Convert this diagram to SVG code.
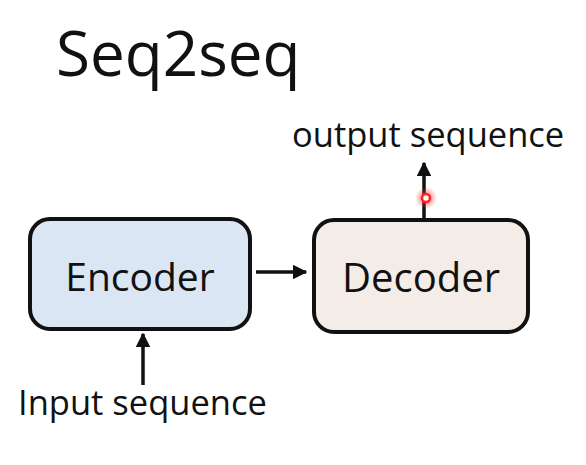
<svg xmlns="http://www.w3.org/2000/svg" width="586" height="465" viewBox="0 0 586 465">
<defs>
<style>
.t{font-family:"Open Sans","Noto Sans","DejaVu Sans",sans-serif;fill:#111}
.box{stroke:#111;stroke-width:4}
.ln{stroke:#111;stroke-width:3.5;fill:none}
</style>
<marker id="ah" viewBox="0 0 10 10" refX="9" refY="5" markerWidth="4.2" markerHeight="4.2" orient="auto" markerUnits="strokeWidth">
<path d="M0,0 L10,5 L0,10 Z" fill="#111"/>
</marker>
<radialGradient id="glow">
<stop offset="0" stop-color="#ff3030" stop-opacity="0.8"/>
<stop offset="1" stop-color="#ff3030" stop-opacity="0"/>
</radialGradient>
</defs>
<rect width="586" height="465" fill="#fff"/>
<text class="t" x="56" y="76" font-size="62">Seq2seq</text>
<g id="connectors">
<line class="ln" x1="256" y1="272" x2="306" y2="272" marker-end="url(#ah)"/>
<line class="ln" x1="143" y1="385" x2="143" y2="334" marker-end="url(#ah)"/>
<line class="ln" x1="424" y1="219" x2="424" y2="163" marker-end="url(#ah)"/>
</g>
<g id="encoder">
<rect class="box" x="30" y="219" width="220" height="110" rx="20" fill="#dae6f4"/>
<text class="t" x="140" y="291" font-size="39" text-anchor="middle">Encoder</text>
</g>
<g id="decoder">
<rect class="box" x="314" y="220" width="214" height="112" rx="20" fill="#f4ece6"/>
<text class="t" x="421" y="292" font-size="40" text-anchor="middle">Decoder</text>
</g>
<text class="t" x="292" y="147" font-size="34.5">output sequence</text>
<text class="t" x="18" y="415" font-size="34.5">Input sequence</text>
<g id="pointer">
<circle cx="426" cy="198" r="11" fill="url(#glow)"/>
<circle cx="426" cy="198" r="4" fill="#fff" stroke="#ff2020" stroke-width="2.5"/>
</g>
</svg>
